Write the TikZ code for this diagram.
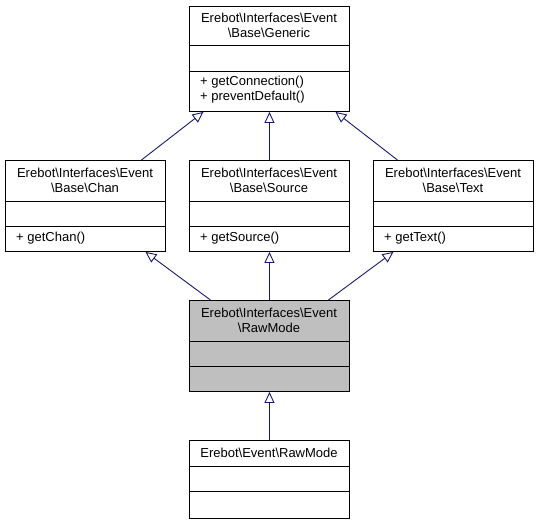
\documentclass[tikz,border=0pt]{standalone}
\usepackage{fontspec}
\setmainfont{Liberation Sans}
\usetikzlibrary{arrows.meta}
\definecolor{edgeblue}{HTML}{191970}
\definecolor{boxgray}{HTML}{BFBFBF}
\tikzset{
  classbox/.style={draw=black, line width=0.9pt, fill=white, minimum width=160pt, inner sep=0pt, anchor=north west},
  titletext/.style={font=\fontsize{13}{15}\selectfont, align=center, inner sep=0pt, anchor=center},
  membertext/.style={font=\fontsize{13}{15}\selectfont, align=left, inner sep=0pt, anchor=west},
  divider/.style={draw=black, line width=0.9pt},
  inherit/.style={draw=edgeblue, line width=0.9pt, -{Triangle[length=11pt,width=10pt,fill=white,line width=0.9pt]}}
}
\begin{document}
\begin{tikzpicture}[x=1pt,y=1pt]
\useasboundingbox (0,0) rectangle (539,-523);
% boxes
\node[classbox, minimum height=105pt] (generic) at (189,-6) {};
\node[classbox, minimum height=91pt] (chan) at (5,-160) {};
\node[classbox, minimum height=91pt] (source) at (189,-160) {};
\node[classbox, minimum height=91pt] (text) at (373,-160) {};
\node[classbox, minimum height=91pt, fill=boxgray] (rawmode) at (189,-300) {};
\node[classbox, minimum height=78pt] (eventraw) at (189,-440) {};
% dividers
\draw[divider] (189,-45) -- (349,-45);
\draw[divider] (189,-71) -- (349,-71);
\foreach \xa in {5,189,373}{
  \draw[divider] (\xa,-201) -- (\xa+160,-201);
  \draw[divider] (\xa,-226) -- (\xa+160,-226);
}
\draw[divider] (189,-341) -- (349,-341);
\draw[divider] (189,-366) -- (349,-366);
\draw[divider] (189,-466) -- (349,-466);
\draw[divider] (189,-491) -- (349,-491);
% texts
\node[titletext] (genericT) at (269,-25) {Erebot\textbackslash Interfaces\textbackslash Event\\\textbackslash Base\textbackslash Generic};
\node[membertext] (genericM) at (200,-89.5) {+ getConnection()\\+ preventDefault()};
\node[titletext] (chanT) at (85,-180) {Erebot\textbackslash Interfaces\textbackslash Event\\\textbackslash Base\textbackslash Chan};
\node[membertext] (chanM) at (16,-238) {+ getChan()};
\node[titletext] (sourceT) at (269,-180) {Erebot\textbackslash Interfaces\textbackslash Event\\\textbackslash Base\textbackslash Source};
\node[membertext] (sourceM) at (200,-238) {+ getSource()};
\node[titletext] (textT) at (453,-180) {Erebot\textbackslash Interfaces\textbackslash Event\\\textbackslash Base\textbackslash Text};
\node[membertext] (textM) at (384,-238) {+ getText()};
\node[titletext] (rawmodeT) at (269,-320) {Erebot\textbackslash Interfaces\textbackslash Event\\\textbackslash RawMode};
\node[titletext] (eventrawT) at (269,-453) {Erebot\textbackslash Event\textbackslash RawMode};
% connectors
\draw[inherit] ([xshift=56pt]chan.north) -- ([xshift=-66pt]generic.south);
\draw[inherit] (source.north) -- (generic.south);
\draw[inherit] ([xshift=-56pt]text.north) -- ([xshift=66pt]generic.south);
\draw[inherit] ([xshift=-59pt]rawmode.north) -- ([xshift=60pt]chan.south);
\draw[inherit] (rawmode.north) -- (source.south);
\draw[inherit] ([xshift=59pt]rawmode.north) -- ([xshift=-60pt]text.south);
\draw[inherit] (eventraw.north) -- (rawmode.south);
\end{tikzpicture}
\end{document}
